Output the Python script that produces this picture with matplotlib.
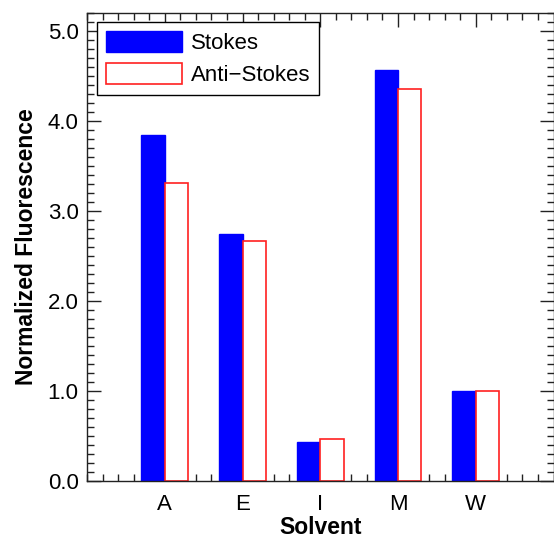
import numpy as np
import matplotlib as mpl
mpl.use('Agg')
import matplotlib.pyplot as plt
from matplotlib.ticker import MultipleLocator, FormatStrFormatter

plt.rcParams['font.family'] = ['Liberation Sans', 'DejaVu Sans']

# Fluorescence per solvent, normalized to water
solvents = ['A', 'E', 'I', 'M', 'W']
stokes = [3.84, 2.74, 0.43, 4.57, 1.00]
anti_stokes = [3.31, 2.67, 0.47, 4.36, 1.00]

x = np.arange(1, len(solvents) + 1)
width = 0.3

fig = plt.figure(figsize=(5.54, 5.40), dpi=100)
ax = fig.add_axes([87 / 554, 59 / 540, 466.5 / 554, 468 / 540])

ax.bar(x - width / 2, stokes, width, color='#0000ff', edgecolor='#0000ff',
       linewidth=1.0, label='Stokes')
ax.bar(x + width / 2, anti_stokes, width, color='white', edgecolor='#ff2020',
       linewidth=1.2, label='Anti\u2212Stokes')

ax.set_xlim(0, 6)
ax.set_ylim(0, 5.2)
ax.set_axisbelow(True)

ax.set_xticks(x)
ax.set_xticklabels(solvents)
ax.xaxis.set_minor_locator(MultipleLocator(0.2))
ax.yaxis.set_major_locator(MultipleLocator(1.0))
ax.yaxis.set_minor_locator(MultipleLocator(0.1))
ax.yaxis.set_major_formatter(FormatStrFormatter('%.1f'))

ax.tick_params(which='both', direction='in', top=True, right=True,
               width=1.0, color='#222222')
ax.tick_params(which='major', length=10, labelsize=16)
ax.tick_params(axis='x', which='major', pad=9)
ax.tick_params(axis='y', which='major', pad=6)
ax.tick_params(which='minor', length=5)

for s in ax.spines.values():
    s.set_linewidth(1.0)
    s.set_color('#222222')

ax.set_xlabel('Solvent', fontsize=16.5, fontweight='bold', labelpad=1)
ax.set_ylabel('Normalized Fluorescence', fontsize=16.5, fontweight='bold',
              labelpad=7)

leg = ax.legend(loc='upper left', bbox_to_anchor=(10 / 466.5, 1 - 9 / 468),
                borderaxespad=0, fontsize=16, handlelength=3.42,
                handleheight=1.08, handletextpad=0.4, labelspacing=0.4,
                borderpad=0.4, fancybox=False, framealpha=1,
                edgecolor='black')
leg.get_frame().set_linewidth(1.0)

fig.savefig('out.png', dpi=100)
